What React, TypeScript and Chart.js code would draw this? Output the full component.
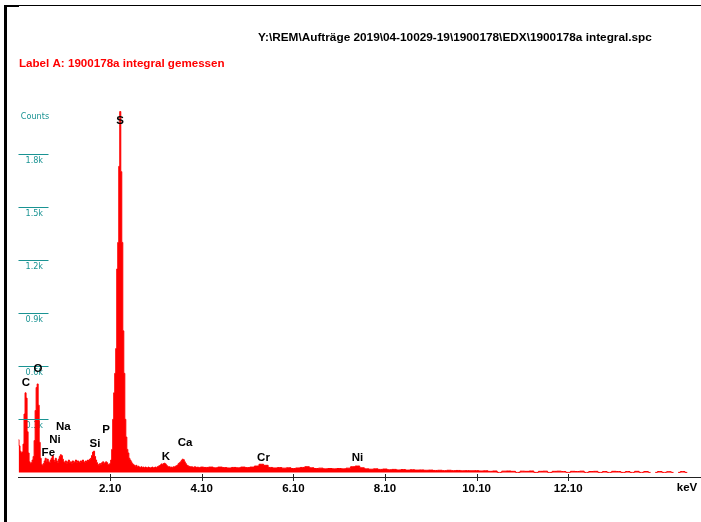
import React, { useEffect, useRef } from 'react';
import { Chart, registerables } from 'chart.js';

Chart.register(...registerables);

// ---- Texts ----
const filePath = 'Y:\\REM\\Aufträge 2019\\04-10029-19\\1900178\\EDX\\1900178a integral.spc';
const labelTitle = 'Label A: 1900178a integral gemessen';
const yAxisName = 'Counts';
const xAxisUnit = 'keV';

// ---- Axis ticks ----
const xTickValues = [2.1, 4.1, 6.1, 8.1, 10.1, 12.1];
const xTickLabels = ['2.10', '4.10', '6.10', '8.10', '10.10', '12.10'];
const yTickValues = [300, 600, 900, 1200, 1500, 1800];
const yTickLabels = ['0.3k', '0.6k', '0.9k', '1.2k', '1.5k', '1.8k'];

// ---- Spectrum: fine channels (0.10 keV .. ~4.08 keV) ----
const lowChannelStartKeV = 0.1;
const lowChannelWidthKeV = 0.022;
const lowCounts = [
  185, 150, 120, 110, 115, 160, 330, 450, 420, 230,
  110, 60, 50, 55, 70, 90, 180, 350, 480, 500,
  380, 170, 80, 45, 40, 50, 65, 80, 60, 75,
  60, 55, 70, 80, 95, 70, 60, 80, 65, 55,
  75, 90, 100, 95, 75, 60, 55, 65, 50, 60,
  70, 55, 60, 50, 65, 55, 60, 70, 55, 65,
  60, 55, 65, 60, 70, 60, 55, 65, 60, 70,
  65, 75, 80, 95, 115, 120, 90, 70, 55, 45,
  40, 50, 45, 55, 60, 50, 55, 60, 55, 45,
  45, 50, 70, 130, 300, 450, 560, 700, 1150, 1300,
  1730, 2040, 1700, 1300, 800, 560, 300, 200, 130, 110,
  80, 70, 60, 50, 45, 40, 35, 40, 30, 35,
  30, 28, 32, 28, 30, 25, 30, 28, 25, 30,
  27, 25, 28, 30, 25, 28, 30, 26, 32, 35,
  38, 42, 48, 45, 50, 52, 48, 40, 35, 30,
  32, 28, 30, 28, 32, 30, 35, 38, 42, 50,
  55, 60, 68, 75, 72, 60, 50, 42, 38, 35,
  33, 30, 32, 30, 28, 32, 30, 27, 30, 28,
  26, 30,
];

// ---- Spectrum: coarse channels (4.2 keV .. 14.9 keV) ----
const highChannelStartKeV = 4.2;
const highChannelWidthKeV = 0.1;
const highCounts = [
  28, 30, 26, 30, 27, 25, 28, 26, 30, 27,
  30, 36, 46, 40, 28, 25, 27, 24, 26, 22,
  25, 28, 32, 26, 22, 24, 20, 22, 20, 22,
  20, 24, 32, 36, 26, 20, 18, 20, 17, 19,
  15, 17, 14, 16, 13, 15, 13, 14, 12, 13,
  11, 12, 10, 12, 10, 11, 9, 10, 9, 10,
  8, 9, 6, 8, 0, 7, 8, 6, 0, 7,
  6, 8, 0, 6, 7, 0, 6, 7, 5, 0,
  6, 5, 7, 0, 5, 6, 0, 5, 0, 6,
  5, 0, 5, 0, 6, 0, 5, 0, 0, 5,
  0, 4, 0, 0, 5, 0, 0, 0,
];

// ---- Element markers ----
const elementNames = ['C', 'O', 'Fe', 'Ni', 'Na', 'Si', 'P', 'S', 'K', 'Ca', 'Cr', 'Ni'];
const elementKeV = [0.264, 0.526, 0.751, 0.897, 1.079, 1.771, 2.012, 2.318, 3.316, 3.738, 5.449, 7.502];
const elementLabelCounts = [504, 583, 108, 183, 258, 159, 240, 1988, 89, 168, 85, 80];

const RED = '#ff0000';
const TEAL = '#1a9393';
const SANS = '"Liberation Sans", Arial, sans-serif';
const NARROW = '"Liberation Sans Narrow", "DejaVu Sans Condensed", "Liberation Sans", sans-serif';

const overlayPlugin = {
  id: 'overlay',
  beforeDraw(chart: any) {
    const ctx = chart.ctx;
    ctx.save();
    ctx.fillStyle = '#ffffff';
    ctx.fillRect(0, 0, chart.width, chart.height);
    ctx.fillStyle = '#000000';
    ctx.fillRect(4, 5, 3, chart.height - 5);
    ctx.fillRect(4, 5, chart.width - 4, 1);
    ctx.fillRect(4, 5, 15, 2);
    ctx.textBaseline = 'middle';
    ctx.textAlign = 'left';
    ctx.font = 'bold 11.8px ' + SANS;
    ctx.fillText(filePath, 258, 38);
    ctx.fillStyle = RED;
    ctx.font = 'bold 11.6px ' + SANS;
    ctx.fillText(labelTitle, 19, 64);
    ctx.fillStyle = TEAL;
    ctx.font = '9px ' + NARROW;
    ctx.textAlign = 'center';
    ctx.fillText(yAxisName, 35, 117);
    ctx.restore();
  },
  afterDatasetsDraw(chart: any) {
    const { ctx, chartArea } = chart;
    const xs = chart.scales.x;
    const ys = chart.scales.y;
    ctx.save();
    // y tick marks (short teal lines inside the plot)
    ctx.strokeStyle = TEAL;
    ctx.lineWidth = 1;
    ys.ticks.forEach((t: any) => {
      const py = Math.round(ys.getPixelForValue(t.value)) + 0.5;
      ctx.beginPath();
      ctx.moveTo(chartArea.left, py);
      ctx.lineTo(chartArea.left + 30, py);
      ctx.stroke();
    });
    // x tick marks crossing the axis
    ctx.strokeStyle = '#222222';
    xs.ticks.forEach((t: any) => {
      const px = Math.round(xs.getPixelForValue(t.value)) + 0.5;
      ctx.beginPath();
      ctx.moveTo(px, chartArea.bottom - 3);
      ctx.lineTo(px, chartArea.bottom + 4);
      ctx.stroke();
    });
    // element labels
    ctx.fillStyle = '#000000';
    ctx.font = 'bold 11.5px ' + SANS;
    ctx.textAlign = 'center';
    ctx.textBaseline = 'middle';
    elementNames.forEach((name, i) => {
      ctx.fillText(name, xs.getPixelForValue(elementKeV[i]), ys.getPixelForValue(elementLabelCounts[i]));
    });
    // unit label
    ctx.fillText(xAxisUnit, chart.width - 14, chartArea.bottom + 11);
    ctx.restore();
  },
};

export default function App() {
  const ref = useRef<HTMLCanvasElement>(null);
  useEffect(() => {
    const canvas = ref.current;
    if (!canvas) return;
    const points = [
      ...lowCounts.map((c, i) => ({ x: lowChannelStartKeV + i * lowChannelWidthKeV, y: c })),
      ...highCounts.map((c, i) => ({ x: highChannelStartKeV + i * highChannelWidthKeV, y: c })),
    ];
    const chart = new Chart(canvas, {
      type: 'line',
      data: {
        datasets: [
          {
            data: points,
            borderColor: RED,
            backgroundColor: RED,
            borderWidth: 1,
            pointRadius: 0,
            fill: 'origin',
            stepped: 'middle',
            segment: {
              borderColor: (c: any) => (c.p0.parsed.y <= 0 && c.p1.parsed.y <= 0 ? 'rgba(0,0,0,0)' : RED),
            },
          } as any,
        ],
      },
      options: {
        responsive: false,
        animation: false,
        devicePixelRatio: 1,
        events: [],
        layout: { padding: { left: 18.5, top: 100, right: 0, bottom: 0 } },
        plugins: {
          legend: { display: false },
          tooltip: { enabled: false },
          title: { display: false },
        },
        scales: {
          x: {
            type: 'linear',
            min: 0.1,
            max: 15.0,
            afterBuildTicks: (s: any) => {
              s.ticks = xTickValues.map((v) => ({ value: v }));
            },
            afterFit: (s: any) => {
              s.height = 45;
            },
            grid: { display: true, drawOnChartArea: false, drawTicks: false },
            border: { display: true, color: '#222222', width: 1 },
            ticks: {
              autoSkip: false,
              maxRotation: 0,
              minRotation: 0,
              padding: 5,
              color: '#000000',
              font: { family: SANS, size: 11.5, weight: 'bold' },
              callback: (_v: any, i: number) => xTickLabels[i],
            },
          },
          y: {
            type: 'linear',
            min: -26,
            max: 2105,
            afterBuildTicks: (s: any) => {
              s.ticks = yTickValues.map((v) => ({ value: v }));
            },
            afterFit: (s: any) => {
              s.width = 0;
            },
            grid: { display: false },
            border: { display: false },
            ticks: {
              mirror: true,
              padding: 7,
              labelOffset: 6.5,
              autoSkip: false,
              color: TEAL,
              font: { family: NARROW, size: 9 },
              callback: (_v: any, i: number) => yTickLabels[i],
            },
          },
        },
      } as any,
      plugins: [overlayPlugin],
    });
    return () => chart.destroy();
  }, []);
  return (
    <div style={{ position: 'fixed', left: 0, top: 0, width: 701, height: 522, background: '#fff' }}>
      <canvas ref={ref} width={701} height={522} style={{ width: 701, height: 522, display: 'block' }} />
    </div>
  );
}
